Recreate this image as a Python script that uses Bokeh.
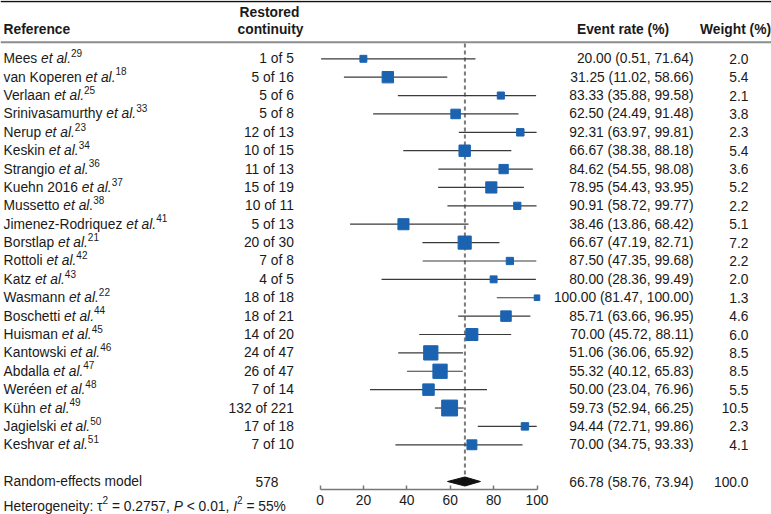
import glob, os
from bokeh.plotting import figure
from bokeh.models import Range1d, LinearAxis, FixedTicker, ColumnDataSource, Span
from bokeh.core.properties import value
from bokeh.embed import file_html
from bokeh.resources import INLINE

# ---------------- data ----------------
studies = ["Mees", "van Koperen", "Verlaan", "Srinivasamurthy", "Nerup", "Keskin",
           "Strangio", "Kuehn 2016", "Mussetto", "Jimenez-Rodriquez", "Borstlap",
           "Rottoli", "Katz", "Wasmann", "Boschetti", "Huisman", "Kantowski",
           "Abdalla", "Weréen", "Kühn", "Jagielski", "Keshvar"]
refs = [29, 18, 25, 33, 23, 34, 36, 37, 38, 41, 21, 42, 43, 22, 44, 45, 46, 47, 48, 49, 50, 51]
events = [1, 5, 5, 5, 12, 10, 11, 15, 10, 5, 20, 7, 4, 18, 18, 14, 24, 26, 7, 132, 17, 7]
totals = [5, 16, 6, 8, 13, 15, 13, 19, 11, 13, 30, 8, 5, 18, 21, 20, 47, 47, 14, 221, 18, 10]
rate = [20.00, 31.25, 83.33, 62.50, 92.31, 66.67, 84.62, 78.95, 90.91, 38.46, 66.67,
        87.50, 80.00, 100.00, 85.71, 70.00, 51.06, 55.32, 50.00, 59.73, 94.44, 70.00]
lower = [0.51, 11.02, 35.88, 24.49, 63.97, 38.38, 54.55, 54.43, 58.72, 13.86, 47.19,
         47.35, 28.36, 81.47, 63.66, 45.72, 36.06, 40.12, 23.04, 52.94, 72.71, 34.75]
upper = [71.64, 58.66, 99.58, 91.48, 99.81, 88.18, 98.08, 93.95, 99.77, 68.42, 82.71,
         99.68, 99.49, 100.00, 96.95, 88.11, 65.92, 65.83, 76.96, 66.25, 99.86, 93.33]
weight = [2.0, 5.4, 2.1, 3.8, 2.3, 5.4, 3.6, 5.2, 2.2, 5.1, 7.2, 2.2, 2.0, 1.3, 4.6,
          6.0, 8.5, 8.5, 5.5, 10.5, 2.3, 4.1]
pooled_rate = 66.78
pooled_lower = 58.76
pooled_upper = 73.94
pooled_total = 578
pooled_weight = 100.0
ticks = [0, 20, 40, 60, 80, 100]
het_segments = [("Heterogeneity: τ", "normal", False), ("2", "normal", True),
                (" = 0.2757, ", "normal", False), ("P", "italic", False),
                (" < 0.01, ", "normal", False), ("I", "italic", False),
                ("2", "normal", True), (" = 55%", "normal", False)]

# ---------------- layout helpers ----------------
W, H = 771, 514
FONT = "Liberation Sans"
FS = 13.8
SUP = 10
TXT = "#1a1a1a"
BLUE = "#1b63b0"

X0 = 319.5                        # pixel of 0 %
PPU = (536.5 - 319.5) / 100.0     # pixels per percent

def dx(X):
    return (X - X0) / PPU

ROW = 18.38
Y0 = 58.3

def ry(Y):
    return (Y - Y0) / ROW

def find_font(name):
    for d in ["/usr/share/fonts", "/usr/local/share/fonts", os.path.expanduser("~/.fonts")]:
        hits = glob.glob(os.path.join(d, "**", name), recursive=True)
        if hits:
            return hits[0]
    return None

try:
    from PIL import ImageFont
    _p = find_font("LiberationSans-Regular.ttf")
    _pi = find_font("LiberationSans-Italic.ttf")
    F_REG = ImageFont.truetype(_p, 100) if _p else None
    F_IT = ImageFont.truetype(_pi, 100) if _pi else F_REG
except Exception:
    F_REG = F_IT = None

def tw(s, size, style="normal"):
    f = F_IT if style == "italic" else F_REG
    if f is None:
        return 0.55 * size * len(s)
    return f.getlength(s) * size / 100.0

# ---------------- figure ----------------
p = figure(width=W, height=H, output_backend="svg", toolbar_location=None,
           x_axis_type=None, y_axis_type=None,
           x_range=Range1d(-X0 / PPU, (W - X0) / PPU),
           y_range=Range1d(ry(H), ry(0)),
           min_border_left=0, min_border_right=0, min_border_top=0, min_border_bottom=0,
           outline_line_color=None, background_fill_color="white")

# horizontal rules
p.add_layout(Span(location=ry(1.0), dimension="width", line_color="#111111", line_width=1.6))
p.add_layout(Span(location=ry(41.7), dimension="width", line_color="#8c8c8c", line_width=2))

rows = list(range(len(studies)))
pooled_row = ry(481)

# pooled reference dashed line
p.segment(x0=[pooled_rate], y0=[ry(43)], x1=[pooled_rate], y1=[pooled_row - 0.25],
          line_color="#7a7a7a", line_width=2, line_dash="4 3")

# CIs and squares
src = ColumnDataSource(dict(y=rows, lo=lower, hi=upper, est=rate,
                            size=[4.9 * (w ** 0.5) for w in weight]))
p.segment(x0="lo", y0="y", x1="hi", y1="y", source=src, line_color="#3a3a3a", line_width=1.2)
p.scatter(x="est", y="y", size="size", marker="square", source=src,
          fill_color=BLUE, line_color=BLUE)

# diamond
p.patch(x=[pooled_lower, pooled_rate, pooled_upper, pooled_rate],
        y=[pooled_row, pooled_row - 0.245, pooled_row, pooled_row + 0.245],
        fill_color="#111111", line_color="#111111")

def txt(xs, ys, texts, size=FS, align="left", style="normal", color=TXT):
    p.text(x=xs, y=ys, text=texts, text_font=value(FONT), text_font_size=value(f"{size}px"),
           text_align=align, text_baseline="middle", text_font_style=style, text_color=color)

# headers
txt([dx(3)], [ry(29)], ["Reference"], style="bold")
txt([dx(269)], [ry(12)], ["Restored"], align="center", style="bold")
txt([dx(270)], [ry(29)], ["continuity"], align="center", style="bold")
txt([dx(622.5)], [ry(29)], ["Event rate (%)"], align="center", style="bold")
txt([dx(735)], [ry(29)], ["Weight (%)"], align="center", style="bold")

# reference column (name + italic et al. + superscript)
x_name = dx(3)
x_etal = [x_name + tw(s + " ", FS) / PPU for s in studies]
x_sup = [xe + tw("et al.", FS, "italic") / PPU for xe in x_etal]
sup_shift = 5.8 / ROW
txt([x_name] * len(rows), rows, studies)
txt(x_etal, rows, ["et al."] * len(rows), style="italic")
txt(x_sup, [r - sup_shift for r in rows], [str(r) for r in refs], size=SUP)

# other columns
txt([dx(293.3)] * len(rows), rows, [f"{e} of {n}" for e, n in zip(events, totals)], align="right")
txt([dx(693)] * len(rows), rows, [f"{r:.2f} ({l:.2f}, {u:.2f})" for r, l, u in zip(rate, lower, upper)], align="right")
txt([dx(748)] * len(rows), rows, [f"{w:.1f}" for w in weight], align="right")

# pooled row
txt([dx(3)], [pooled_row], ["Random-effects model"])
txt([dx(278)], [pooled_row], [str(pooled_total)], align="right")
txt([dx(693)], [pooled_row + 0.08], [f"{pooled_rate:.2f} ({pooled_lower:.2f}, {pooled_upper:.2f})"], align="right")
txt([dx(748)], [pooled_row], [f"{pooled_weight:.1f}"], align="right")

# axis at fixed location inside the frame
axis = LinearAxis(ticker=FixedTicker(ticks=ticks), bounds=(0, 100),
                  fixed_location=ry(489),
                  axis_line_color="#777777", axis_line_width=1.5,
                  major_tick_line_color="#777777", major_tick_line_width=1.5,
                  major_tick_in=4, major_tick_out=0, minor_tick_line_color=None,
                  major_label_standoff=5,
                  major_label_text_font=FONT, major_label_text_font_size=f"{FS}px",
                  major_label_text_color=TXT)
p.add_layout(axis, "below")

# heterogeneity line (segments; leading/trailing blanks turned into offsets)
het_y = ry(505.5)
hx = dx(3)
for t, style, sup in het_segments:
    size = SUP if sup else FS
    core = t.strip()
    lead = t[:len(t) - len(t.lstrip())]
    x_here = hx + tw(lead, size, style) / PPU
    txt([x_here], [het_y - (sup_shift if sup else 0)], [core], size=size, style=style)
    hx += tw(t, size, style) / PPU

open("out.html", "w").write(file_html(p, INLINE))
